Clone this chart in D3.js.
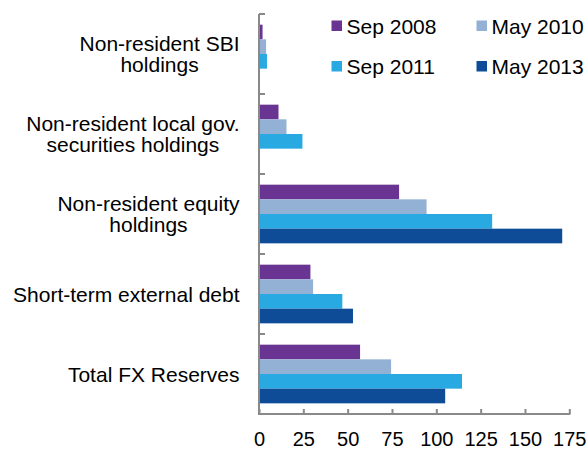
<!DOCTYPE html>
<html>
<head>
<meta charset="utf-8">
<script src="https://cdn.jsdelivr.net/npm/d3@7"></script>
<style>
  html, body { margin: 0; padding: 0; background: #fff; }
  svg { display: block; font-family: "Liberation Sans", Arial, sans-serif; }
</style>
</head>
<body>
<svg id="chart" width="588" height="450"></svg>
<script>
// ---- data ----
const categories = [
  ["Non-resident SBI", "holdings"],
  ["Non-resident local gov.", "securities holdings"],
  ["Non-resident equity", "holdings"],
  ["Short-term external debt"],
  ["Total FX Reserves"]
];
const seriesNames = ["Sep 2008", "May 2010", "Sep 2011", "May 2013"];
const sep2008 = [2, 11, 79, 29, 57];
const may2010 = [4, 15.5, 94.5, 30.5, 74.5];
const sep2011 = [4.5, 24.5, 131.5, 47, 114.5];
const may2013 = [null, null, 171, 53, 105];
const seriesValues = [sep2008, may2010, sep2011, may2013];
const xTicks = [0, 25, 50, 75, 100, 125, 150, 175];
const colors = ["#6a3592", "#93b1d4", "#29a9e1", "#0e4c97"];

// ---- layout ----
(function () {
const svg = d3.select("#chart");
const pLeft = 259, pRight = 569.3, pTop = 14, pBottom = 414;
const axisColor = "#898989";

const x = d3.scaleLinear().domain([0, 175]).range([pLeft, pRight]);
const catIdx = categories.map((d, i) => i);
const y = d3.scaleBand().domain(catIdx).range([pTop, pBottom]).paddingInner(0).paddingOuter(0);
const ySub = d3.scaleBand().domain(d3.range(seriesNames.length))
  .range([0, y.bandwidth()]).paddingInner(0).paddingOuter(0.727);

// bars
const groups = svg.append("g").selectAll("g").data(catIdx).join("g")
  .attr("transform", i => `translate(0,${y(i)})`);
groups.selectAll("rect")
  .data(i => seriesValues.map((vals, s) => ({ s, v: vals[i] })).filter(d => d.v != null))
  .join("rect")
  .attr("x", x(0))
  .attr("y", d => ySub(d.s))
  .attr("width", d => x(d.v) - x(0))
  .attr("height", ySub.bandwidth())
  .attr("fill", d => colors[d.s]);

// y axis (ticks at band boundaries, pointing right)
const boundaries = catIdx.map(i => y(i));
const yAxis = svg.append("g");
yAxis.append("line").attr("x1", pLeft).attr("x2", pLeft).attr("y1", pTop).attr("y2", pBottom)
  .attr("stroke", axisColor).attr("stroke-width", 2);
yAxis.selectAll("line.t").data(boundaries).join("line").attr("class", "t")
  .attr("x1", pLeft).attr("x2", pLeft + 6).attr("y1", d => d).attr("y2", d => d)
  .attr("stroke", axisColor).attr("stroke-width", 2);

// category labels: block right-aligned, lines centred within block
const fontCat = 21;
const labelRight = 239.5;
const lab = svg.append("g").attr("font-size", fontCat).attr("fill", "#000");
catIdx.forEach(i => {
  const lines = categories[i];
  const c = y(i) + y.bandwidth() / 2;
  const lh = 21;
  const b1 = c + 7.5 - (lines.length - 1) * lh / 2;
  const t = lab.append("text").attr("y", b1).attr("text-anchor", "middle");
  const spans = lines.map((ln, k) =>
    t.append("tspan").attr("dy", k === 0 ? 0 : lh).text(ln));
  const maxW = d3.max(spans, s => s.node().getComputedTextLength());
  const cx = labelRight - maxW / 2;
  spans.forEach(s => s.attr("x", cx));
});

// x axis
const xAxis = d3.axisBottom(x).tickValues(xTicks).tickSize(0).tickPadding(0).tickFormat(d3.format("d"));
const gx = svg.append("g").attr("transform", `translate(0,${pBottom})`).call(xAxis);
gx.select(".domain").remove();
gx.append("line").attr("x1", pLeft - 1).attr("x2", pRight + 1).attr("y1", 0).attr("y2", 0)
  .attr("stroke", axisColor).attr("stroke-width", 2);
gx.selectAll(".tick").append("line").attr("x1", 0).attr("x2", 0).attr("y1", 0).attr("y2", -5)
  .attr("stroke", axisColor).attr("stroke-width", 2);
gx.selectAll(".tick text").attr("font-size", 20).attr("font-family", "Liberation Sans, Arial, sans-serif")
  .attr("fill", "#000").attr("dy", 0).attr("y", 32);

// legend
const legend = svg.append("g");
const legPos = [[331.5, 20.5], [476.5, 20.5], [331.5, 61], [476.5, 61]];
seriesNames.forEach((name, s) => {
  const [lx, ly] = legPos[s];
  legend.append("rect").attr("x", lx).attr("y", ly).attr("width", 10.5).attr("height", 10.5).attr("fill", colors[s]);
  legend.append("text").attr("x", lx + 15).attr("y", ly + 13).attr("font-size", 21).attr("fill", "#000").text(name);
});
})();
</script>
</body>
</html>
